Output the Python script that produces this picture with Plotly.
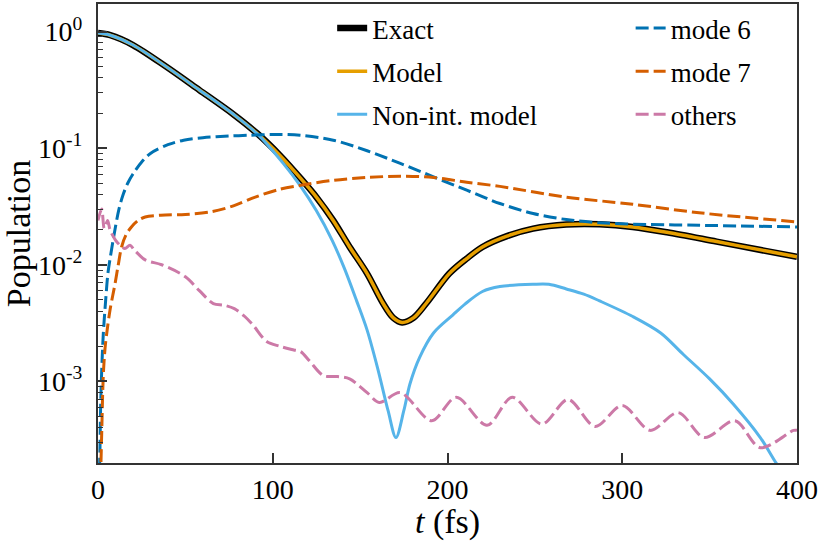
import plotly.graph_objects as go

# ---------------- data ----------------
t_exact = [0, 7, 20, 39, 58, 77.5, 91, 104, 116, 125, 134.6, 144, 154, 163, 169, 174,
           180.5, 188, 201, 211, 220, 234, 249, 268, 287, 306, 325.6, 354, 382.6, 400]
exact = [0.97, 0.93, 0.766, 0.50, 0.315, 0.195, 0.134, 0.087, 0.055, 0.038, 0.024, 0.0142,
         0.0084, 0.0047, 0.0035, 0.0032, 0.0035, 0.0047, 0.0084, 0.0113, 0.0142, 0.0176,
         0.0204, 0.0221, 0.0222, 0.0211, 0.019, 0.0158, 0.0131, 0.0117]

t_model = t_exact
model = [0.97, 0.93, 0.766, 0.50, 0.315, 0.195, 0.134, 0.087, 0.055, 0.038, 0.024, 0.0142,
         0.0084, 0.0047, 0.0035, 0.0032, 0.0035, 0.0047, 0.0084, 0.0113, 0.0142, 0.0176,
         0.0204, 0.0221, 0.0222, 0.0211, 0.019, 0.0158, 0.0131, 0.0117]

t_nonint = [0, 7, 20, 39, 58, 77.5, 91, 106, 116, 125, 134, 141, 148, 154, 160, 166, 170.5,
            175, 178.5, 184, 192, 203, 210, 220, 230, 249, 258, 268, 278, 287, 306, 322,
            335, 350, 363.5, 379, 388, 395]
nonint = [0.97, 0.93, 0.766, 0.50, 0.315, 0.195, 0.133, 0.074, 0.047, 0.029, 0.0162, 0.0093,
          0.0049, 0.00275, 0.0013, 0.00056, 0.00033, 0.00056, 0.00095, 0.0016, 0.0026,
          0.0037, 0.0046, 0.0059, 0.0065, 0.0068, 0.0068, 0.0062, 0.0056, 0.0049, 0.0036,
          0.0026, 0.0017, 0.00105, 0.00064, 0.00033, 0.0002, 0.00014]

t_mode6 = [0.6, 1.1, 1.5, 2, 3, 4.4, 5.7, 7, 9.7, 12, 14.4, 17, 20, 25, 30, 40, 49, 60, 75,
           87, 100, 115.6, 134.6, 154, 173, 192, 211, 230, 249, 268, 287, 306, 344, 400]
mode6 = [1.2e-4, 2.5e-4, 6e-4, 1.1e-3, 2.5e-3, 5e-3, 8.5e-3, 0.0115, 0.02, 0.03, 0.04, 0.05,
         0.06, 0.076, 0.09, 0.107, 0.117, 0.123, 0.127, 0.129, 0.131, 0.129, 0.117, 0.095,
         0.074, 0.0567, 0.0436, 0.0335, 0.0275, 0.0244, 0.0229, 0.0223, 0.0218, 0.0211]

t_mode7 = [1.2, 1.7, 2.2, 3, 4, 5.3, 7, 8.5, 9.7, 11.5, 13.5, 16, 19, 23, 27, 36, 50, 65,
           77.5, 90, 103, 116, 135, 154, 173, 192, 211, 230, 268, 306, 344, 400]
mode7 = [1e-4, 2e-4, 4e-4, 1.1e-3, 1.9e-3, 2.8e-3, 4.2e-3, 5.5e-3, 6.8e-3, 9.8e-3, 0.0142,
         0.018, 0.021, 0.024, 0.0257, 0.0266, 0.027, 0.0285, 0.032, 0.038, 0.044, 0.048,
         0.053, 0.056, 0.0575, 0.056, 0.051, 0.047, 0.038, 0.033, 0.0279, 0.0233]

t_others = [0, 2.1, 3.6, 5.5, 6.9, 10.1, 12.6, 15.4, 18.3, 21, 27, 36.4, 50, 58, 66, 72,
            78, 84, 89, 96.5, 104, 112, 116, 121, 129, 137, 144, 154, 161, 173, 191, 205,
            222.6, 237, 254, 269, 284.5, 300, 316, 332, 347, 364.5, 379, 398, 400]
others = [0.024, 0.030, 0.0205, 0.024, 0.0199, 0.0162, 0.0147, 0.0138, 0.0147, 0.0133,
          0.011, 0.0100, 0.0079, 0.0060, 0.00465, 0.0045, 0.0042, 0.0036, 0.0030, 0.0022,
          0.0020, 0.00186, 0.0018, 0.0015, 0.00112, 0.00110, 0.00105, 0.00080, 0.00066,
          0.00080, 0.00046, 0.00073, 0.00042, 0.00073, 0.00043, 0.00070, 0.00041, 0.00062,
          0.00038, 0.00054, 0.00033, 0.00046, 0.00027, 0.00038, 0.00038]

x_ticks = [0, 100, 200, 300, 400]
y_ticks = [1e-3, 1e-2, 1e-1, 1]
y_ticktext = ["10<sup>-3</sup>", "10<sup>-2</sup>", "10<sup>-1</sup>", "10<sup>0</sup>"]
y_minor = [m * 10.0 ** e for e in (-4, -3, -2, -1, 0) for m in range(2, 10)]

# ---------------- figure ----------------
fig = go.Figure()

def add(t, y, name, color, width, dash, legend, group):
    fig.add_trace(go.Scatter(
        x=t, y=y, name=name, mode="lines",
        line=dict(color=color, width=width, dash=dash, shape="spline", smoothing=0.9),
        legend=legend, legendgroup=group, showlegend=True))

add(t_exact, exact, "Exact", "black", 6.5, "solid", "legend", "g1")
add(t_model, model, "Model", "#E69F00", 3.5, "solid", "legend", "g2")
add(t_nonint, nonint, "Non-int. model", "#56B4E9", 3, "solid", "legend", "g3")
add(t_mode6, mode6, "mode 6", "#0072B2", 3, "13px,5px", "legend2", "g4")
add(t_mode7, mode7, "mode 7", "#D55E00", 3, "13px,5px", "legend2", "g5")
add(t_others, others, "others", "#CC79A7", 3, "13px,5px", "legend2", "g6")

axis_common = dict(showline=True, linecolor="#333333", linewidth=2, mirror=True,
                   showgrid=False, zeroline=False, ticks="inside", tickcolor="#333333",
                   tickwidth=1.5, automargin=False)

fig.update_layout(
    width=830, height=541,
    margin=dict(l=98, r=33, t=4, b=78),
    paper_bgcolor="white", plot_bgcolor="white",
    font=dict(family="Liberation Serif", size=28, color="black"),
    xaxis=dict(range=[0, 400], tickmode="array", tickvals=x_ticks, ticklen=10,
               ticklabelstandoff=0,
               title=dict(text="<i>t</i> (fs)", standoff=10), **axis_common),
    yaxis=dict(type="log", range=[-3.70, 0.236], tickmode="array", tickvals=y_ticks,
               ticktext=y_ticktext, ticklen=9, ticklabelstandoff=8,
               minor=dict(tickmode="array", tickvals=y_minor, ticks="inside", ticklen=5,
                          tickcolor="#333333", tickwidth=1),
               title=dict(text="Population", standoff=16), **axis_common),
    legend=dict(x=0.335, y=1.0, xanchor="left", yanchor="top", bgcolor="rgba(0,0,0,0)",
                tracegroupgap=5, font=dict(size=27), traceorder="grouped"),
    legend2=dict(x=0.762, y=1.0, xanchor="left", yanchor="top", bgcolor="rgba(0,0,0,0)",
                 tracegroupgap=5, font=dict(size=27), traceorder="grouped"),
)

fig.write_html("out.html", config={"displayModeBar": False},
               post_script="document.body.style.margin='0px';document.body.style.overflow='hidden';")
